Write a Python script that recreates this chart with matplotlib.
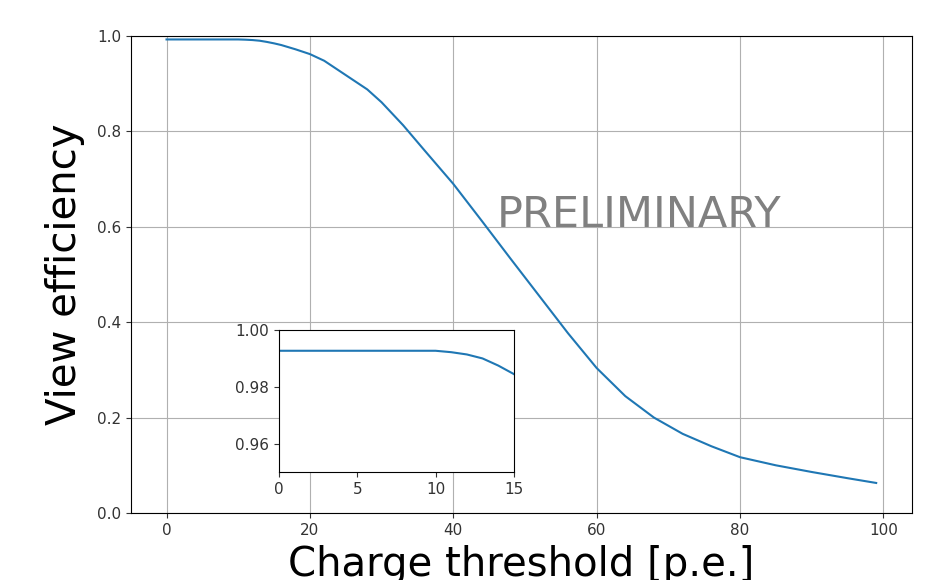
import matplotlib
matplotlib.use('Agg')
import matplotlib.pyplot as plt

# view efficiency vs charge threshold
threshold = [0, 5, 10, 11, 12, 13, 14, 15, 16, 18, 20, 22, 25, 28, 30, 33, 36, 40,
             44, 48, 52, 56, 60, 64, 68, 72, 76, 80, 85, 90, 95, 99]
efficiency = [0.9927, 0.9927, 0.9927, 0.9922, 0.9914, 0.9900, 0.9875, 0.9845, 0.981,
              0.972, 0.962, 0.948, 0.918, 0.888, 0.861, 0.813, 0.760, 0.690,
              0.612, 0.533, 0.455, 0.377, 0.304, 0.245, 0.200, 0.166, 0.140, 0.117,
              0.100, 0.086, 0.073, 0.063]

inset_xticks = [0, 5, 10, 15]
inset_yticks = [0.96, 0.98, 1.00]

plt.rcParams['xtick.labelsize'] = 11
plt.rcParams['ytick.labelsize'] = 11
plt.rcParams['xtick.color'] = '#333333'
plt.rcParams['ytick.color'] = '#333333'

fig = plt.figure(figsize=(9.36, 5.8), dpi=100)
ax = fig.add_axes([0.140, 0.1155, 0.834, 0.8225])
ax.plot(threshold, efficiency)
ax.set_ylim(0, 1.0)
ax.grid(True)
ax.set_xlabel('Charge threshold [p.e.]', fontsize=29, labelpad=5)
ax.set_ylabel('View efficiency', fontsize=29, labelpad=9)
ax.text(46, 0.6, 'PRELIMINARY', fontsize=31, color='gray')

# zoom on the plateau
axin = fig.add_axes([0.298, 0.186, 0.251, 0.245])
axin.plot(threshold, efficiency)
axin.set_xlim(0, 15)
axin.set_ylim(0.95, 1.00)
axin.set_xticks(inset_xticks)
axin.set_yticks(inset_yticks)
axin.set_yticklabels(['0.96', '0.98', '1.00'])

fig.savefig('out.png', dpi=100)
